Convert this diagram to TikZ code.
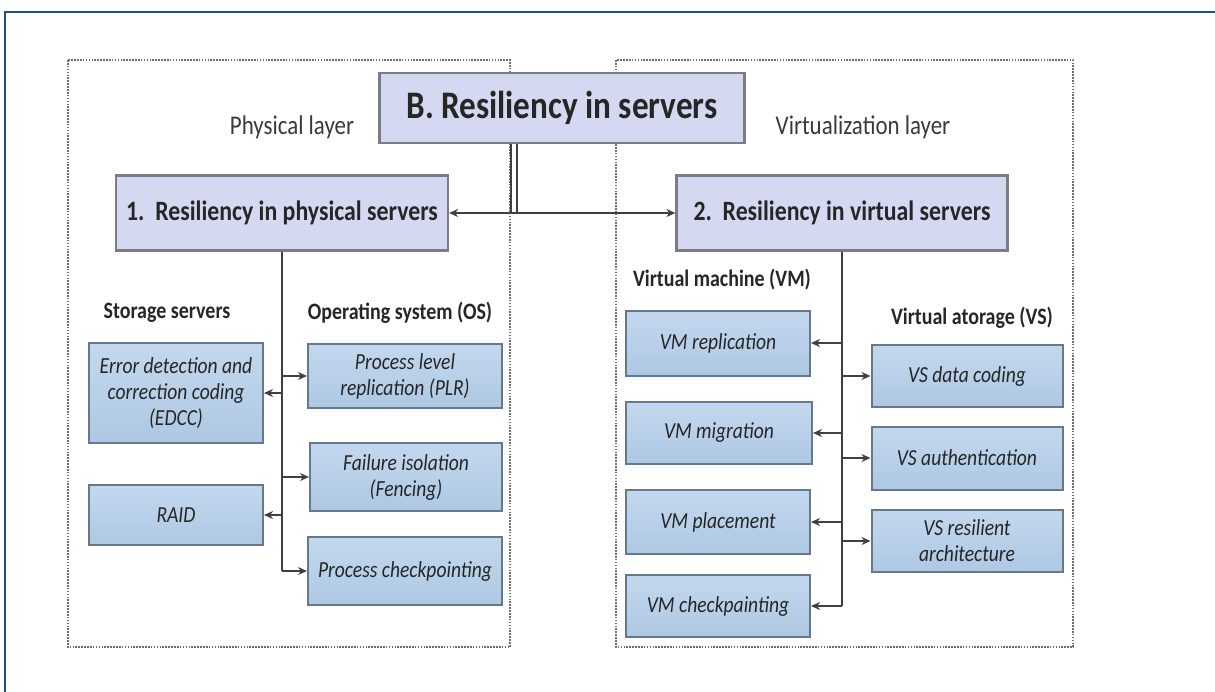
\documentclass[tikz,border=0pt]{standalone}
\usepackage{fontspec}
\setmainfont[FakeStretch=0.85]{Carlito}
\usepackage{tikz}
\usetikzlibrary{arrows.meta}

\definecolor{frameblue}{HTML}{1F4E8C}
\definecolor{dotgrey}{HTML}{6E6E6E}
\definecolor{lavender}{HTML}{D4D9F1}
\definecolor{boxgrey}{HTML}{7A7D86}
\definecolor{subtop}{HTML}{C3D8EE}
\definecolor{subbot}{HTML}{AEC8E3}
\definecolor{subedge}{HTML}{66788E}
\definecolor{inkdark}{HTML}{262626}
\definecolor{inkgrey}{HTML}{3A3A3A}
\definecolor{linkgrey}{HTML}{404040}

\begin{document}
\begin{tikzpicture}[x=1pt, y=-1pt,
    topbox/.style={draw=boxgrey, line width=2.2pt, fill=lavender, text=inkdark,
        font=\bfseries\fontsize{28}{32}\selectfont},
    subbox/.style={draw=subedge, line width=2pt, top color=subtop, bottom color=subbot,
        text=inkdark, align=center, font=\itshape\fontsize{23}{26}\selectfont},
    grouplbl/.style={text=inkdark, font=\bfseries\fontsize{23.5}{27}\selectfont},
    layerlbl/.style={text=inkgrey, font=\fontsize{27}{31}\selectfont},
    link/.style={draw=linkgrey, line width=2.6pt, -{Stealth[length=9pt, width=8pt]}}]
    \useasboundingbox (0,0) rectangle (1215,691);
    \clip (0,0) rectangle (1215,691);
    \draw[frameblue, line width=2.4pt] (5,12) rectangle (1240,720);

    % the two layers
    \draw[dotgrey, line width=2.2pt, dash pattern=on 1.6pt off 1.3pt] (68,60) rectangle (510,647);
    \draw[dotgrey, line width=2.2pt, dash pattern=on 1.6pt off 1.3pt] (616,60) rectangle (1073,647);
    \node[layerlbl] (physlbl) at (292,127) {Physical layer};
    \node[layerlbl] (virtlbl) at (863,127) {Virtualization layer};

    \node[topbox, minimum width=365pt, minimum height=70pt, font=\bfseries\fontsize{39}{43}\selectfont] (servers) at (562,108) {B. Resiliency in servers};
    \node[topbox, minimum width=332pt, minimum height=75pt] (phys) at (282,213) {1.\ \ Resiliency in physical servers};
    \node[topbox, minimum width=331pt, minimum height=75pt] (virt) at (842,213) {2.\ \ Resiliency in virtual servers};

    \coordinate (split) at (514,213);
    \draw[linkgrey, line width=1.8pt, double distance=3.5pt] (split |- servers.south) -- (split);
    \draw[link, {Stealth[length=9pt, width=8pt]}-{Stealth[length=9pt, width=8pt]}] (phys) -- (virt);

    % physical servers
    \node[grouplbl] (storlbl) at (167,313) {Storage servers};
    \node[grouplbl] (oslbl) at (400,313) {Operating system (OS)};
    \node[subbox, minimum width=174pt, minimum height=100pt] (edcc) at (176,393) {Error detection and\\correction coding\\(EDCC)};
    \node[subbox, minimum width=174pt, minimum height=60pt] (raid) at (176,515) {RAID};
    \node[subbox, minimum width=194pt, minimum height=64pt] (plr) at (405,376) {Process level\\replication (PLR)};
    \node[subbox, minimum width=192pt, minimum height=68pt] (fence) at (406,477) {Failure isolation\\(Fencing)};
    \node[subbox, minimum width=194pt, minimum height=68pt] (pchk) at (405,571) {Process checkpointing};

    \draw[linkgrey, line width=2.6pt] (phys.south) -- (phys.south |- pchk.west);
    \foreach \tgt in {edcc, raid}
        \draw[link] (\tgt.east -| phys.south) -- (\tgt.east);
    \foreach \tgt in {plr, fence, pchk}
        \draw[link] (\tgt.west -| phys.south) -- (\tgt.west);

    % virtual servers
    \node[grouplbl] (vmlbl) at (722,280) {Virtual machine (VM)};
    \node[grouplbl] (vslbl) at (972,318) {Virtual atorage (VS)};
    \node[subbox, minimum width=184pt, minimum height=65pt] (vmrep) at (718,343) {VM replication};
    \node[subbox, minimum width=186pt, minimum height=62pt] (vmmig) at (719,433) {VM migration};
    \node[subbox, minimum width=184pt, minimum height=64pt] (vmpl) at (718,522) {VM placement};
    \node[subbox, minimum width=184pt, minimum height=62pt] (vmchk) at (718,606) {VM checkpainting};
    \node[subbox, minimum width=191pt, minimum height=62pt] (vsdc) at (967,376) {VS data coding};
    \node[subbox, minimum width=191pt, minimum height=63pt] (vsau) at (967,458) {VS authentication};
    \node[subbox, minimum width=191pt, minimum height=62pt] (vsra) at (967,541) {VS resilient\\architecture};

    \draw[linkgrey, line width=2.6pt] (virt.south) -- (virt.south |- vmchk.east);
    \foreach \tgt in {vmrep, vmmig, vmpl, vmchk}
        \draw[link] (\tgt.east -| virt.south) -- (\tgt.east);
    \foreach \tgt in {vsdc, vsau, vsra}
        \draw[link] (\tgt.west -| virt.south) -- (\tgt.west);
\end{tikzpicture}
\end{document}
